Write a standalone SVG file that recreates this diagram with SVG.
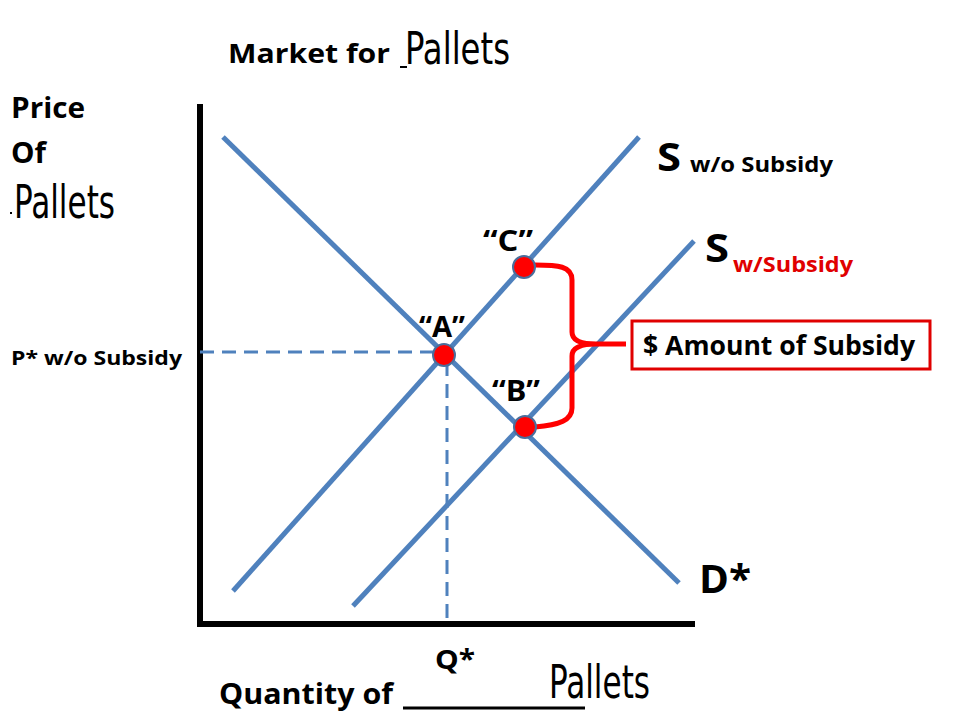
<svg xmlns="http://www.w3.org/2000/svg" width="960" height="720" viewBox="0 0 960 720">
<style>
.b{font-family:"Open Sans","Liberation Sans",Arial,sans-serif;font-weight:bold;fill:#000}
.p{font-family:"DejaVu Sans Condensed","DejaVu Sans",sans-serif;font-weight:normal;fill:#000}
.curve{stroke:#4f81bd;stroke-width:5;fill:none;stroke-linecap:butt}
.dash{stroke:#4f81bd;stroke-width:3;stroke-dasharray:14 8;fill:none}
.dot{fill:#ff0000;stroke:#4a6e9c;stroke-width:2}
.red{fill:#e00000}
</style>
<rect width="960" height="720" fill="#fff"/>
<g id="title">
<text class="b" x="228" y="63" font-size="27" textLength="162" lengthAdjust="spacingAndGlyphs">Market for</text>
<rect x="400" y="66" width="7" height="2" fill="#000"/>
<text class="p" x="405" y="64" font-size="44" textLength="105" lengthAdjust="spacingAndGlyphs">Pallets</text>
</g>
<g id="y-label">
<text class="b" x="11" y="118" font-size="28" textLength="74" lengthAdjust="spacingAndGlyphs">Price</text>
<text class="b" x="11" y="163" font-size="28" textLength="35" lengthAdjust="spacingAndGlyphs">Of</text>
<rect x="10" y="212" width="2" height="2" fill="#000"/>
<text class="p" x="14" y="218" font-size="47" textLength="101" lengthAdjust="spacingAndGlyphs">Pallets</text>
</g>
<g id="axes">
<line x1="200" y1="104" x2="200" y2="627" stroke="#000" stroke-width="6"/>
<line x1="197" y1="624" x2="695" y2="624" stroke="#000" stroke-width="6"/>
</g>
<g id="connectors">
<line class="curve" x1="223" y1="137" x2="679" y2="583"/>
<line class="curve" x1="233" y1="591" x2="639" y2="137"/>
<line class="curve" x1="353" y1="606" x2="694" y2="241"/>
<line class="dash" x1="200" y1="352" x2="440" y2="352"/>
<line class="dash" x1="447" y1="362" x2="447" y2="618"/>
<path d="M535,265 C558,265 572,266 572,280 L572,332 C572,340 580,344 596,344 L626,344 M596,344 C580,344 572,348 572,356 L572,408 C572,420 560,425 535,427" fill="none" stroke="#ff0000" stroke-width="5" stroke-linejoin="round"/>
</g>
<g id="point-A">
<circle class="dot" cx="444" cy="355" r="11"/>
<text class="b" x="419" y="337" font-size="28" textLength="46" lengthAdjust="spacingAndGlyphs">“A”</text>
</g>
<g id="point-C">
<circle class="dot" cx="524" cy="267" r="11"/>
<text class="b" x="483" y="251" font-size="28" textLength="50" lengthAdjust="spacingAndGlyphs">“C”</text>
</g>
<g id="point-B">
<circle class="dot" cx="525" cy="427" r="11"/>
<text class="b" x="492" y="401" font-size="28" textLength="48" lengthAdjust="spacingAndGlyphs">“B”</text>
</g>
<g id="p-star">
<text class="b" x="11" y="365" font-size="20" textLength="171" lengthAdjust="spacingAndGlyphs">P* w/o Subsidy</text>
</g>
<g id="s-without">
<text class="b" x="657" y="171" font-size="39" textLength="24" lengthAdjust="spacingAndGlyphs">S</text>
<text class="b" x="690" y="172" font-size="21" textLength="143" lengthAdjust="spacingAndGlyphs">w/o Subsidy</text>
</g>
<g id="s-with">
<text class="b" x="705" y="262" font-size="39" textLength="24" lengthAdjust="spacingAndGlyphs">S</text>
<text class="b red" x="733" y="272" font-size="21" textLength="120" lengthAdjust="spacingAndGlyphs">w/Subsidy</text>
</g>
<g id="demand">
<text class="b" x="699" y="593" font-size="39" textLength="52" lengthAdjust="spacingAndGlyphs">D*</text>
</g>
<g id="subsidy-box">
<rect x="632" y="321" width="298" height="48" fill="#fff" stroke="#e00000" stroke-width="3"/>
<text class="b" x="643" y="355" font-size="26" textLength="272" lengthAdjust="spacingAndGlyphs">$ Amount of Subsidy</text>
</g>
<g id="x-label">
<text class="b" x="435" y="669" font-size="26" textLength="40" lengthAdjust="spacingAndGlyphs">Q*</text>
<text class="b" x="219" y="704" font-size="28" textLength="174" lengthAdjust="spacingAndGlyphs">Quantity of</text>
<line x1="403" y1="708" x2="585" y2="708" stroke="#000" stroke-width="3"/>
<text class="p" x="549" y="698" font-size="46" textLength="101" lengthAdjust="spacingAndGlyphs">Pallets</text>
</g>
</svg>
